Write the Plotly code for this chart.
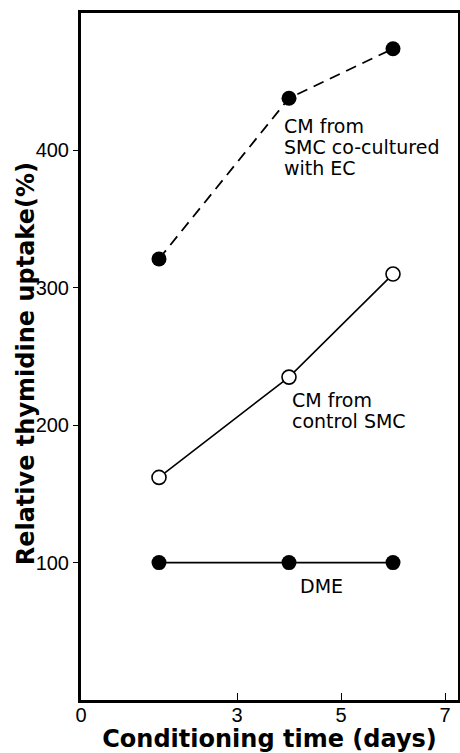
import plotly.graph_objects as go

days = [1.5, 4, 6]
cocultured = [321, 438, 474]
control = [162, 235, 310]
dme = [100, 100, 100]

x_ticks = [0, 3, 5, 7]
y_ticks = [100, 200, 300, 400]

label_cocultured = ["CM from", "SMC co-cultured", "with EC"]
label_control = ["CM from", "control SMC"]
label_dme = ["DME"]

fig = go.Figure()

fig.add_trace(go.Scatter(
    x=days, y=cocultured, mode="lines+markers",
    line=dict(color="black", width=1.8, dash="11px,7px"),
    marker=dict(symbol="circle", size=15, color="black"),
    showlegend=False))
fig.add_trace(go.Scatter(
    x=days, y=control, mode="lines+markers",
    line=dict(color="black", width=1.6),
    marker=dict(symbol="circle", size=14, color="white", line=dict(color="black", width=1.6)),
    showlegend=False))
fig.add_trace(go.Scatter(
    x=days, y=dme, mode="lines+markers",
    line=dict(color="black", width=1.6),
    marker=dict(symbol="circle", size=15, color="black"),
    showlegend=False))

ann_font = dict(family="DejaVu Sans, Liberation Sans, Arial", size=19, color="black")
line_step = 15.3  # data units between text lines (~21 px)


def add_label(lines, x0, y0):
    for i, t in enumerate(lines):
        fig.add_annotation(x=x0, y=y0 - i * line_step, xref="x", yref="y",
                           xanchor="left", yanchor="middle", text=t,
                           showarrow=False, align="left", font=ann_font)


add_label(label_cocultured, 3.87, 418)
add_label(label_control, 4.02, 218)
add_label(label_dme, 4.17, 83)

xtick_font = dict(family="Liberation Sans, Arial, sans-serif", size=20, color="black")
ytick_font = dict(family="Liberation Sans, Arial, sans-serif", size=20, color="black")
title_font = dict(family="DejaVu Sans, Liberation Sans, Arial", size=24, color="black", weight="bold")

# y-axis title as a rotated annotation so it can sit close to the tick labels
fig.add_annotation(text="Relative thymidine uptake(%)", xref="paper", yref="paper",
                   x=-0.146, y=0.49, xanchor="center", yanchor="middle",
                   textangle=-90, showarrow=False, font=title_font)

fig.update_xaxes(
    range=[0, 7.25], tickvals=x_ticks, ticktext=[str(v) for v in x_ticks],
    ticks="inside", ticklen=7, tickwidth=1, tickcolor="black",
    showline=True, linewidth=3, linecolor="black", mirror=True,
    showgrid=False, zeroline=False, tickfont=xtick_font, automargin=False,
    ticklabelstandoff=-5,
    title=dict(text="Conditioning time (days)", font=title_font, standoff=2))
fig.update_yaxes(
    range=[0, 500], tickvals=y_ticks, ticktext=[str(v) for v in y_ticks],
    ticks="outside", ticklen=5, tickwidth=1, tickcolor="black",
    showline=True, linewidth=3, linecolor="black", mirror=True,
    showgrid=False, zeroline=False, tickfont=ytick_font, automargin=False)

fig.update_layout(
    width=460, height=753,
    margin=dict(l=81, r=2, t=13, b=53),
    paper_bgcolor="white", plot_bgcolor="white",
)

fig.write_html("out.html", config={"displayModeBar": False},
               post_script="document.body.style.margin='0';")
